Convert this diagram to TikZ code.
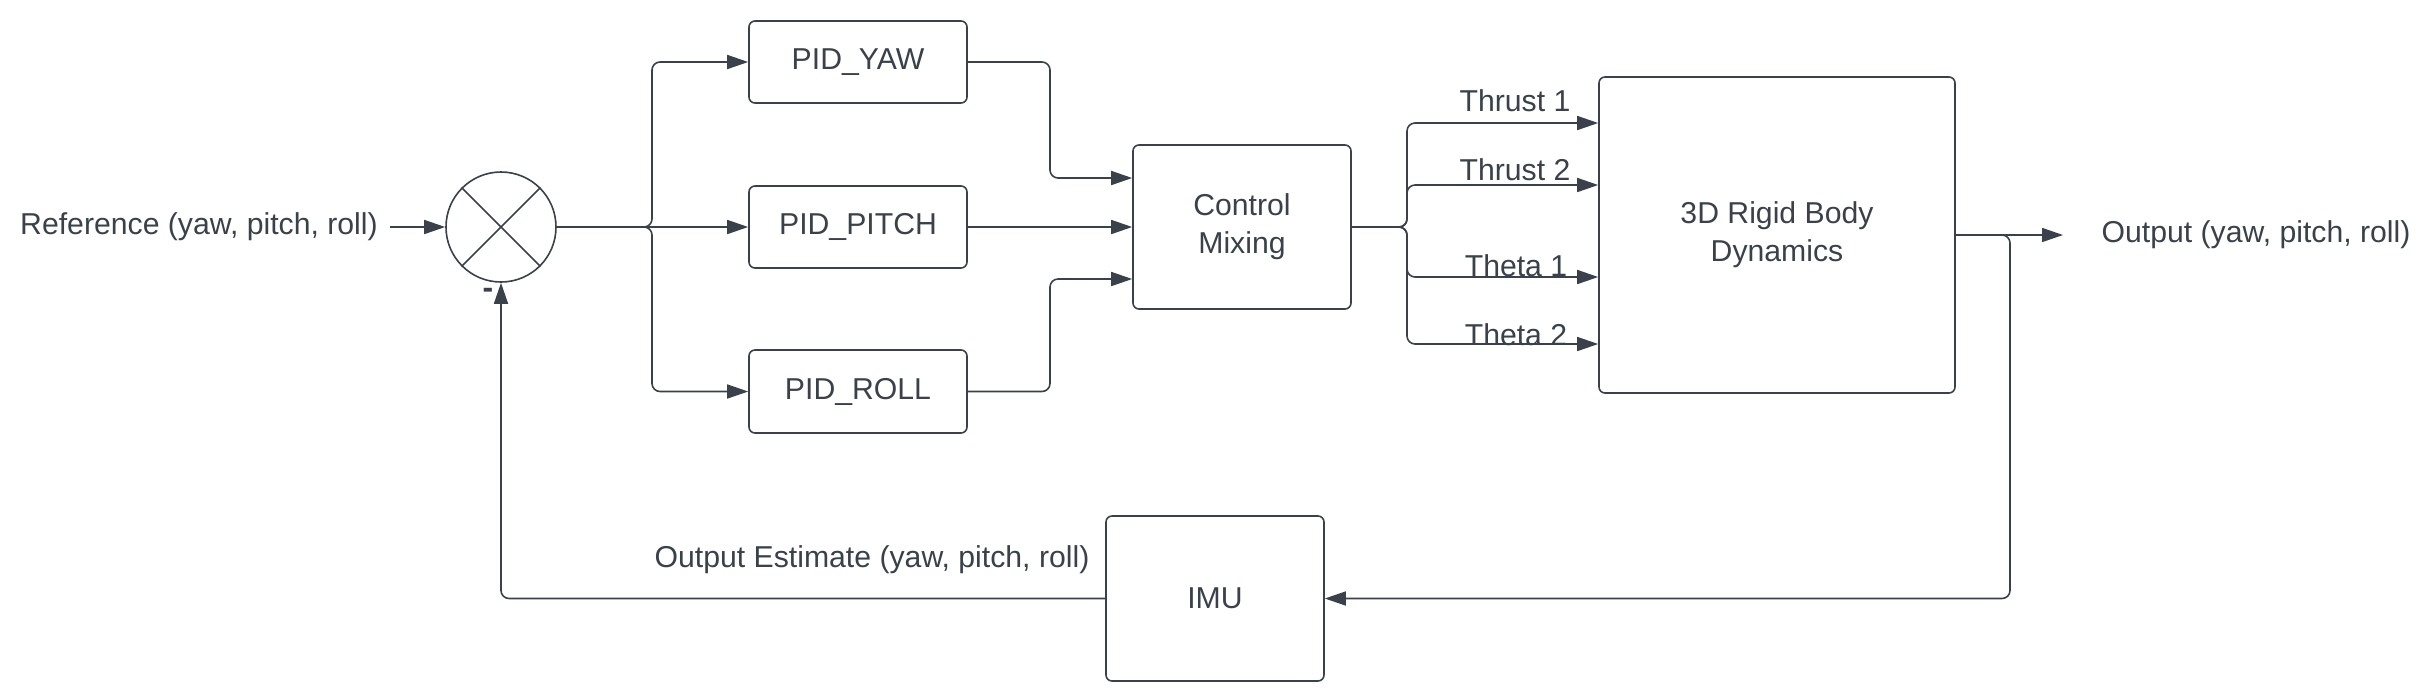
\documentclass[tikz,border=0pt]{standalone}
\usepackage{fontspec}
\setmainfont{Liberation Sans}
\usetikzlibrary{arrows.meta}
\definecolor{ink}{HTML}{3A414A}
\begin{document}
\begin{tikzpicture}[x=0.5pt,y=-0.5pt,
  every node/.style={text=ink, font=\fontsize{15.1}{19}\selectfont},
  blk/.style={draw=ink, line width=0.8pt, rounded corners=3pt, minimum width=109pt, inner sep=0pt, align=center},
  conn/.style={draw=ink, line width=0.8pt, rounded corners=4pt, -{Triangle[length=10.5pt,width=7pt]}},
  plainln/.style={draw=ink, line width=0.8pt},
  lbl/.style={inner sep=0pt, anchor=center}]
\useasboundingbox (0,0) rectangle (2426,698);
% nodes
\node[lbl] (ref) at (199,227) {Reference (yaw, pitch, roll)};
\node[circle, draw=ink, line width=0.8pt, minimum size=55pt, inner sep=0pt] (sum) at (501,227) {};
\draw[plainln] (sum.north west) -- (sum.south east);
\draw[plainln] (sum.north east) -- (sum.south west);
\node[lbl, font=\fontsize{16}{19}\bfseries] (minus) at (488,293) {-};
\node[blk, minimum height=41pt] (yaw) at (858,62) {PID\_YAW};
\node[blk, minimum height=41pt] (pitch) at (858,227) {PID\_PITCH};
\node[blk, minimum height=41.5pt] (roll) at (858,391.5) {PID\_ROLL};
\node[blk, minimum height=82pt] (mix) at (1242,227) {Control\\Mixing};
\node[blk, minimum width=178pt, minimum height=158pt] (rbd) at (1777,235) {3D Rigid Body\\Dynamics};
\node[blk, minimum height=82.5pt] (imu) at (1215,598.5) {IMU};
\node[lbl] (out) at (2256,235) {Output (yaw, pitch, roll)};
\node[lbl] (est) at (872,560) {Output Estimate (yaw, pitch, roll)};
\node[lbl] (t1) at (1515,101) {Thrust 1};
\node[lbl] (t2) at (1515,170) {Thrust 2};
\node[lbl] (h1) at (1516,266) {Theta 1};
\node[lbl] (h2) at (1516,335) {Theta 2};
% helper coordinates
\coordinate (j1) at (652,227);
\coordinate (c1) at (1050,178);
\coordinate (c3) at (1050,279);
\coordinate (j2) at (1407,227);
\coordinate (r1) at (0,123);
\coordinate (r2) at (0,185);
\coordinate (r3) at (0,277);
\coordinate (r4) at (0,344);
\coordinate (oend) at (2063,235);
\coordinate (fb) at (2010,235);
% connectors
\draw[conn, shorten <=6pt] (ref) -- (sum);
\draw[conn] (sum.east) -- (j1) |- (yaw.west);
\draw[conn] (sum.east) -- (pitch.west);
\draw[conn] (sum.east) -- (j1) |- (roll.west);
\draw[conn] (yaw.east) -| (c1) -- (mix.west |- c1);
\draw[conn] (pitch.east) -- (mix.west);
\draw[conn] (roll.east) -| (c3) -- (mix.west |- c3);
\draw[conn] (mix.east) -- (j2) |- (rbd.west |- r1);
\draw[conn] (mix.east) -- (j2) |- (rbd.west |- r2);
\draw[conn] (mix.east) -- (j2) |- (rbd.west |- r3);
\draw[conn] (mix.east) -- (j2) |- (rbd.west |- r4);
\draw[conn] (rbd.east) -- (oend);
\draw[conn] (rbd.east) -- (fb) |- (imu.east);
\draw[conn] (imu.west) -| (sum.south);
\end{tikzpicture}
\end{document}
